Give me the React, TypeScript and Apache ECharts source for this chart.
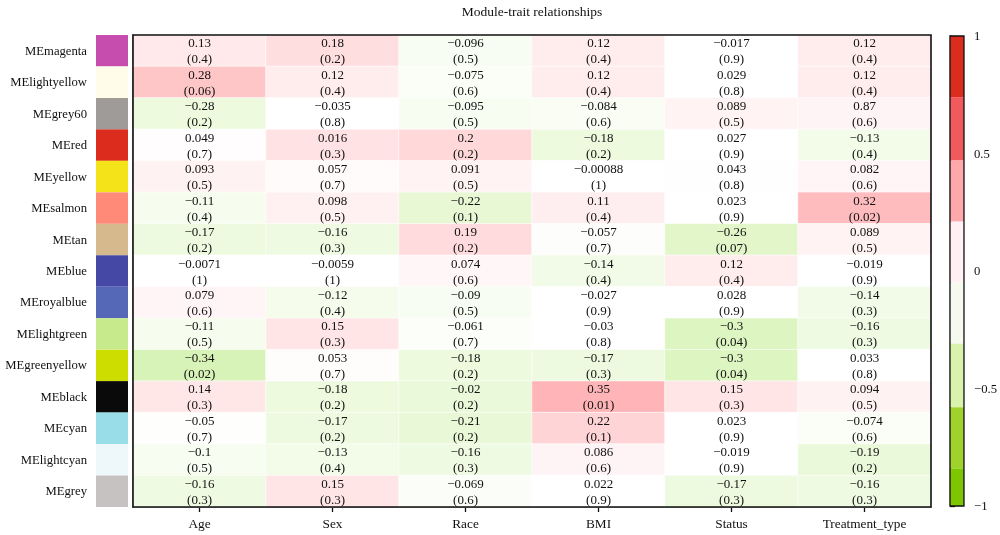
import React, { useEffect, useRef } from "react";
import * as echarts from "echarts";

const traits = ["Age", "Sex", "Race", "BMI", "Status", "Treatment_type"];
const modules = [
  "MEmagenta", "MElightyellow", "MEgrey60", "MEred", "MEyellow", "MEsalmon", "MEtan",
  "MEblue", "MEroyalblue", "MElightgreen", "MEgreenyellow", "MEblack", "MEcyan",
  "MElightcyan", "MEgrey",
];
const moduleColors = [
  "#C64CAE", "#FFFDE9", "#9F9B98", "#DC2C1E", "#F5E31A", "#FF8A78", "#D7B98E",
  "#4549A5", "#5568B8", "#C6EA8C", "#CEDD00", "#0A0A0A", "#98DDE8", "#EEF8FA", "#C6C2C1",
];

// correlation shown in each cell (rows = modules, columns = traits)
const corr = [
  [0.13, 0.18, -0.096, 0.12, -0.017, 0.12],
  [0.28, 0.12, -0.075, 0.12, 0.029, 0.12],
  [-0.28, -0.035, -0.095, -0.084, 0.089, 0.87],
  [0.049, 0.016, 0.2, -0.18, 0.027, -0.13],
  [0.093, 0.057, 0.091, -0.00088, 0.043, 0.082],
  [-0.11, 0.098, -0.22, 0.11, 0.023, 0.32],
  [-0.17, -0.16, 0.19, -0.057, -0.26, 0.089],
  [-0.0071, -0.0059, 0.074, -0.14, 0.12, -0.019],
  [0.079, -0.12, -0.09, -0.027, 0.028, -0.14],
  [-0.11, 0.15, -0.061, -0.03, -0.3, -0.16],
  [-0.34, 0.053, -0.18, -0.17, -0.3, 0.033],
  [0.14, -0.18, -0.02, 0.35, 0.15, 0.094],
  [-0.05, -0.17, -0.21, 0.22, 0.023, -0.074],
  [-0.1, -0.13, -0.16, 0.086, -0.019, -0.19],
  [-0.16, 0.15, -0.069, 0.022, -0.17, -0.16],
];
// p-values shown in parentheses
const pval = [
  [0.4, 0.2, 0.5, 0.4, 0.9, 0.4],
  [0.06, 0.4, 0.6, 0.4, 0.8, 0.4],
  [0.2, 0.8, 0.5, 0.6, 0.5, 0.6],
  [0.7, 0.3, 0.2, 0.2, 0.9, 0.4],
  [0.5, 0.7, 0.5, 1, 0.8, 0.6],
  [0.4, 0.5, 0.1, 0.4, 0.9, 0.02],
  [0.2, 0.3, 0.2, 0.7, 0.07, 0.5],
  [1, 1, 0.6, 0.4, 0.4, 0.9],
  [0.6, 0.4, 0.5, 0.9, 0.9, 0.3],
  [0.5, 0.3, 0.7, 0.8, 0.04, 0.3],
  [0.02, 0.7, 0.2, 0.3, 0.04, 0.8],
  [0.3, 0.2, 0.2, 0.01, 0.3, 0.5],
  [0.7, 0.2, 0.2, 0.1, 0.9, 0.6],
  [0.5, 0.4, 0.3, 0.6, 0.9, 0.2],
  [0.3, 0.3, 0.6, 0.9, 0.3, 0.3],
];
// cells whose fill in the picture does not match the printed number
const shadeFix = [
  { row: 2, col: 0, value: -0.18 },
  { row: 2, col: 5, value: 0.087 },
  { row: 3, col: 1, value: 0.16 },
  { row: 11, col: 2, value: -0.2 },
];

// colour-bar bands (upper bound -> lower bound) and their colours
const barBreaks = [1, 0.74, 0.47, 0.21, -0.05, -0.31, -0.58, -0.84, -1];
const barColors = ["#DC2C1E", "#F05A5C", "#FFA8AC", "#FFF0F3", "#F6FAEE", "#D8F3AC", "#A0D22C", "#7DC600"];

const FONT = "'Liberation Serif', 'DejaVu Serif', serif";
const TXT = "#111";

function lerp(a: number[], b: number[], t: number) {
  return a.map((x, i) => Math.round(x + (b[i] - x) * t));
}
function shadeColor(v: number): string {
  const W = [255, 255, 255];
  const a = Math.abs(v);
  let c: number[];
  if (a <= 0.04) c = W;
  else if (v > 0) {
    const P1 = [255, 145, 150], P2 = [240, 90, 92], P3 = [220, 44, 30];
    if (a <= 0.5) c = lerp(W, P1, (a - 0.04) / 0.46);
    else if (a <= 0.75) c = lerp(P1, P2, (a - 0.5) / 0.25);
    else c = lerp(P2, P3, (a - 0.75) / 0.25);
  } else {
    const G1 = [195, 237, 145], G2 = [160, 210, 44], G3 = [125, 198, 0];
    if (a <= 0.5) c = lerp(W, G1, (a - 0.04) / 0.46);
    else if (a <= 0.75) c = lerp(G1, G2, (a - 0.5) / 0.25);
    else c = lerp(G2, G3, (a - 0.75) / 0.25);
  }
  return `rgb(${c[0]},${c[1]},${c[2]})`;
}
const fmt = (n: number) => String(n).replace("-", "\u2212");

export default function App() {
  const ref = useRef<HTMLDivElement>(null);
  useEffect(() => {
    if (!ref.current) return;
    const chart = echarts.init(ref.current, null, { renderer: "svg" });

    const stops: string[] = [];
    for (let i = 0; i <= 200; i++) stops.push(shadeColor(-1 + i / 100));

    const cells: any[] = [];
    const labels: string[] = [];
    modules.forEach((_, r) => {
      traits.forEach((__, c) => {
        const fix = shadeFix.find((f) => f.row === r && f.col === c);
        cells.push([c, r, fix ? fix.value : corr[r][c]]);
        labels.push(`${fmt(corr[r][c])}\n(${fmt(pval[r][c])})`);
      });
    });
    const swatches = modules.map((_, r) => [0, r, r]);
    const bands = barColors.map((col, i) => [barBreaks[i], barBreaks[i + 1], i]);

    chart.setOption({
      animation: false,
      textStyle: { fontFamily: FONT },
      title: {
        text: "Module-trait relationships",
        left: 532,
        textAlign: "center",
        top: 4,
        padding: 0,
        textStyle: { fontFamily: FONT, fontSize: 13.5, fontWeight: "normal", color: TXT },
      },
      grid: [
        { left: 133, right: 69, top: 35, bottom: 28, show: true, z: 10, borderColor: "#111", borderWidth: 1.6, backgroundColor: "transparent" },
        { left: 96, width: 32, top: 35, bottom: 28 },
        { left: 950, width: 14, top: 36, bottom: 29, show: true, z: 10, borderColor: "#111", borderWidth: 1.3, backgroundColor: "transparent" },
      ],
      xAxis: [
        {
          type: "category", gridIndex: 0, data: traits, position: "bottom",
          axisLine: { show: true, lineStyle: { color: "#111", width: 1.6 } },
          axisTick: { show: true, alignWithLabel: true, length: 5, lineStyle: { color: "#111", width: 1.3 } },
          axisLabel: { fontFamily: FONT, fontSize: 13.3, color: TXT, margin: 10 },
          splitLine: { show: false },
        },
        { type: "category", gridIndex: 1, data: [""], show: false },
        { type: "value", gridIndex: 2, min: 0, max: 1, show: false },
      ],
      yAxis: [
        {
          type: "category", gridIndex: 0, data: modules, inverse: true,
          axisLine: { show: true, lineStyle: { color: "#111", width: 1.6 } },
          axisTick: { show: false }, axisLabel: { show: false }, splitLine: { show: false },
        },
        {
          type: "category", gridIndex: 1, data: modules, inverse: true,
          axisLine: { show: false }, axisTick: { show: false },
          axisLabel: { fontFamily: FONT, fontSize: 12.7, color: TXT, margin: 9 },
        },
        {
          type: "value", gridIndex: 2, min: -1, max: 1, interval: 0.5, position: "right",
          axisLine: { show: true, lineStyle: { color: "#111", width: 1.3 } },
          axisTick: { show: true, length: 5, lineStyle: { color: "#111", width: 1.3 } },
          axisLabel: { fontFamily: FONT, fontSize: 12.7, color: TXT, margin: 10, formatter: (v: number) => fmt(v) },
          splitLine: { show: false },
        },
      ],
      visualMap: {
        type: "continuous", show: false, min: -1, max: 1, dimension: 2, seriesIndex: 0,
        inRange: { color: stops },
      },
      series: [
        {
          type: "heatmap", xAxisIndex: 0, yAxisIndex: 0, data: cells,
          itemStyle: { borderColor: "#fff", borderWidth: 0.6 },
          label: {
            show: true, fontFamily: FONT, fontSize: 13, color: TXT, lineHeight: 16,
            formatter: (p: any) => labels[p.dataIndex],
          },
          emphasis: { disabled: true },
        },
        {
          type: "custom", xAxisIndex: 1, yAxisIndex: 1, data: swatches, silent: true,
          renderItem: (params: any, api: any) => {
            const c = api.coord([api.value(0), api.value(1)]);
            const s = api.size([1, 1]);
            return {
              type: "rect",
              shape: { x: c[0] - s[0] / 2, y: c[1] - s[1] / 2, width: s[0], height: s[1] },
              style: { fill: moduleColors[api.value(2)] },
            };
          },
        },
        {
          type: "custom", xAxisIndex: 2, yAxisIndex: 2, data: bands, silent: true,
          renderItem: (params: any, api: any) => {
            const hi = api.value(0), lo = api.value(1), idx = api.value(2);
            const p1 = api.coord([0, hi]);
            const p2 = api.coord([1, lo]);
            return {
              type: "rect",
              shape: { x: p1[0], y: p1[1], width: p2[0] - p1[0], height: p2[1] - p1[1] },
              style: { fill: barColors[idx] },
            };
          },
        },
      ],
    });
    return () => chart.dispose();
  }, []);
  return <div ref={ref} style={{ position: "fixed", left: 0, top: 0, width: 1000, height: 535 }} />;
}
